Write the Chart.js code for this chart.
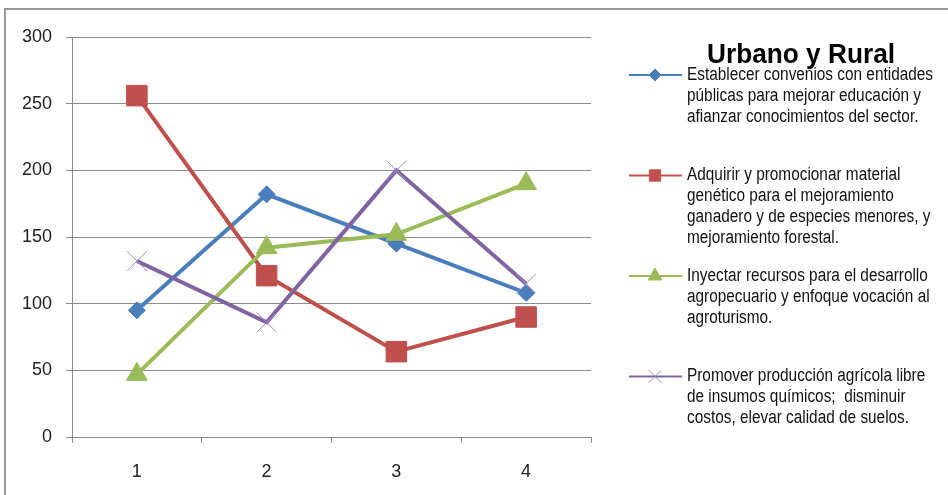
<!DOCTYPE html>
<html>
<head>
<meta charset="utf-8">
<script src="https://cdn.jsdelivr.net/npm/chart.js@4"></script>
<style>
  html, body { margin: 0; padding: 0; background: #fff; overflow: hidden; }
  .frame {
    position: absolute; left: 4px; top: 8px; width: 1000px; height: 600px;
    border: 2px solid #9a9a9a; box-sizing: border-box;
  }
  .wrap { position: absolute; left: 0; top: 0; width: 948px; height: 495px; }
</style>
</head>
<body>
<div class="frame"></div>
<div class="wrap"><canvas id="chart"></canvas></div>
<script>
const categories = ["1", "2", "3", "4"];
const convenios = [95, 182, 145, 108];
const genetico = [256, 121, 64, 90];
const recursos = [47, 142, 152, 190];
const produccion = [132, 86, 200, 115];
const yTicks = [0, 50, 100, 150, 200, 250, 300];

const chartTitle = "Urbano y Rural";
const labelConvenios = ["Establecer convenios con entidades", "públicas para mejorar educación y", "afianzar conocimientos del sector."];
const labelGenetico = ["Adquirir y promocionar material", "genético para el mejoramiento", "ganadero y de especies menores, y", "mejoramiento forestal."];
const labelRecursos = ["Inyectar recursos para el desarrollo", "agropecuario y enfoque vocación al", "agroturismo."];
const labelProduccion = ["Promover producción agrícola libre", "de insumos químicos;  disminuir", "costos, elevar calidad de suelos."];

const SANS = '"Liberation Sans", Arial, sans-serif';
const gridColor = "#8c8c8c";

// text squeezed sideways, the original uses a narrow face
function narrowText(ctx, text, x, y, sx) {
  ctx.save();
  ctx.translate(x, y);
  ctx.scale(sx, 1);
  ctx.fillText(text, 0, 0);
  ctx.restore();
}

// legend + title drawn on the right, Excel style
const sideLegend = {
  id: "sideLegend",
  afterDraw(chart) {
    const ctx = chart.ctx;
    ctx.save();
    ctx.fillStyle = "#000";
    ctx.textAlign = "center";
    ctx.textBaseline = "alphabetic";
    ctx.font = "bold 27px " + SANS;
    const tsx = 188 / ctx.measureText(chartTitle).width;
    narrowText(ctx, chartTitle, 801, 63, tsx);

    ctx.textAlign = "left";
    ctx.textBaseline = "middle";
    ctx.font = "18px " + SANS;
    const sx = 246 / ctx.measureText(labelConvenios[0]).width;
    const legendSizes = { rectRot: 6, rect: 8, triangle: 8, crossRot: 9 };
    chart.data.datasets.forEach((ds, i) => {
      const y0 = 75 + i * 100.5;
      ctx.strokeStyle = ds.borderColor;
      ctx.lineWidth = 2;
      ctx.beginPath();
      ctx.moveTo(629, y0);
      ctx.lineTo(682, y0);
      ctx.stroke();
      ctx.fillStyle = ds.pointBackgroundColor;
      ctx.strokeStyle = ds.pointBorderColor;
      ctx.lineWidth = 1;
      Chart.helpers.drawPoint(ctx, {
        pointStyle: ds.pointStyle,
        radius: legendSizes[ds.pointStyle],
        rotation: 0,
        borderWidth: 1,
      }, 655, y0);
      ctx.fillStyle = "#111";
      ds.label.forEach((line, j) => {
        narrowText(ctx, line, 687, y0 + j * 20.8, sx);
      });
    });
    ctx.restore();
  },
};

function series(label, data, color, style, radius, markerBorder, order) {
  return {
    label: label,
    data: data,
    borderColor: color,
    backgroundColor: color,
    borderWidth: 4,
    pointStyle: style,
    pointRadius: radius,
    pointHoverRadius: radius,
    pointBackgroundColor: color,
    pointBorderColor: markerBorder,
    pointBorderWidth: 1,
    tension: 0,
    order: order,
  };
}

new Chart(document.getElementById("chart"), {
  type: "line",
  data: {
    labels: categories,
    datasets: [
      series(labelConvenios, convenios, "#4a7ebb", "rectRot", 8.5, "#4a7ebb", 4),
      series(labelGenetico, genetico, "#c0504d", "rect", 14.5, "#c0504d", 3),
      series(labelRecursos, recursos, "#9bbb59", "triangle", 12, "#9bbb59", 2),
      series(labelProduccion, produccion, "#8064a2", "crossRot", 14, "#a08cc4", 1),
    ],
  },
  options: {
    responsive: true,
    maintainAspectRatio: false,
    animation: false,
    events: [],
    layout: { padding: { top: 37, right: 357, bottom: 0, left: 10 } },
    plugins: {
      legend: { display: false },
      title: { display: false },
      tooltip: { enabled: false },
    },
    scales: {
      x: {
        offset: true,
        grid: { offset: true, drawOnChartArea: false, drawTicks: true, tickLength: 6, color: gridColor },
        border: { color: gridColor, width: 1 },
        ticks: { color: "#222", font: { size: 18, family: SANS }, padding: 18 },
        afterFit: (s) => { s.height = 58; },
      },
      y: {
        min: 0,
        max: 300,
        afterBuildTicks: (s) => { s.ticks = yTicks.map((v) => ({ value: v })); },
        grid: { color: gridColor, lineWidth: 1, tickLength: 6 },
        border: { color: gridColor, width: 1 },
        ticks: { color: "#222", font: { size: 18, family: SANS }, padding: 14 },
        afterFit: (s) => { s.width = 62; },
      },
    },
  },
  plugins: [sideLegend],
});
</script>
</body>
</html>
